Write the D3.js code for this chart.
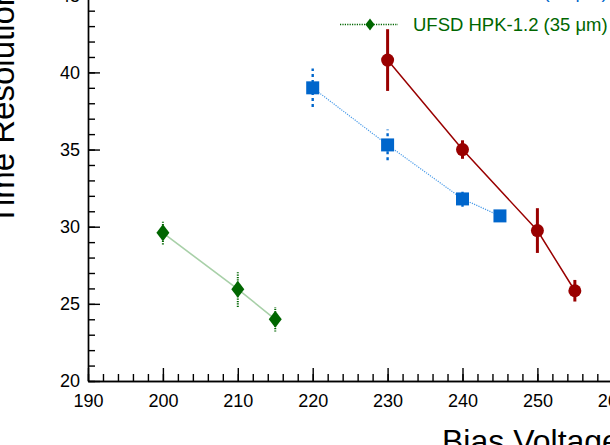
<!DOCTYPE html>
<html>
<head>
<meta charset="utf-8">
<script src="https://d3js.org/d3.v7.min.js"></script>
<style>
  body { margin: 0; background: #fff; }
  svg { display: block; font-family: "Liberation Sans", Arial, Helvetica, sans-serif; }
  .axis path, .axis line { stroke: #000; stroke-width: 1.4; }
  .axis text { font-size: 18px; fill: #000; }
</style>
</head>
<body>
<div id="graph"></div>
<script>
// bias voltage (V) / time resolution (ps) per sensor
var redV = [230, 240, 250, 255];
var redT = [40.8, 35.0, 29.75, 25.85];
var redErr = [2.0, 0.6, 1.45, 0.7];

var blueV = [220, 230, 240, 245];
var blueT = [39.0, 35.3, 31.8, 30.7];
var blueErr = [1.25, 1.0, 0.5, 0.3];

var greenV = [200, 210, 215];
var greenT = [29.6, 25.95, 24.0];
var greenErr = [0.75, 1.15, 0.8];

var xTicks = [190, 200, 210, 220, 230, 240, 250, 260, 270];
var yTicks = [20, 25, 30, 35, 40, 45];

var legendLabels = ["UFSD HPK-3.2 (50 \u03bcm)", "UFSD HPK-1.2 (35 \u03bcm)"];

var width = 610;
var height = 445;

var red = "#990000", blue = "#0066cc", green = "#006600";

function pts(xs, ys, es) {
    return xs.map(function(v, i) { return {v: v, t: ys[i], e: es[i]}; });
}

var svg = d3.select("#graph").append("svg")
    .attr("width", width)
    .attr("height", height);

var x = d3.scaleLinear().domain([190, 270]).range([88, 88 + 80 * 7.49]);
var y = d3.scaleLinear().domain([20, 50]).range([381, 381 - 30 * 15.43]);

// minor ticks first so the majors sit on top
svg.append("g").attr("class", "axis")
    .attr("transform", "translate(0,381)")
    .call(d3.axisBottom(x).tickValues(d3.range(190, 271, 2)).tickSizeInner(-7).tickSizeOuter(0).tickFormat(""));
svg.append("g").attr("class", "axis")
    .attr("transform", "translate(88,0)")
    .call(d3.axisLeft(y).tickValues(d3.range(20, 51, 1)).tickSizeInner(-7).tickSizeOuter(0).tickFormat(""));

svg.append("g").attr("class", "axis")
    .attr("transform", "translate(0,381)")
    .call(d3.axisBottom(x).tickValues(xTicks).tickSizeInner(-13).tickSizeOuter(0).tickPadding(13).tickFormat(d3.format("d")));
svg.append("g").attr("class", "axis")
    .attr("transform", "translate(88,0)")
    .call(d3.axisLeft(y).tickValues(yTicks).tickSizeInner(-12).tickSizeOuter(0).tickPadding(8).tickFormat(d3.format("d")));

svg.selectAll(".axis text").attr("font-family", null);

// axis titles
svg.append("text")
    .attr("x", 442).attr("y", 452)
    .attr("font-size", 32)
    .text("Bias Voltage [V]");
svg.append("text")
    .attr("transform", "translate(14,225) rotate(-90)")
    .attr("font-size", 33)
    .text("Time Resolution [ps]");

var line = d3.line()
    .x(function(d) { return x(d.v); })
    .y(function(d) { return y(d.t); });

function drawSeries(data, opt) {
    var g = svg.append("g");
    g.append("path")
        .datum(data)
        .attr("d", line)
        .attr("fill", "none")
        .attr("stroke", opt.lineColor)
        .attr("stroke-width", opt.lineWidth)
        .attr("stroke-dasharray", opt.lineDash);
    g.selectAll(".err").data(data).enter().append("line")
        .attr("x1", function(d) { return x(d.v); })
        .attr("x2", function(d) { return x(d.v); })
        .attr("y1", function(d) { return y(d.t - d.e); })
        .attr("y2", function(d) { return y(d.t + d.e); })
        .attr("stroke", opt.color)
        .attr("stroke-width", opt.errWidth)
        .attr("stroke-dasharray", opt.errDash);
    g.selectAll(".mk").data(data).enter().append("path")
        .attr("transform", function(d) { return "translate(" + x(d.v) + "," + y(d.t) + ")"; })
        .attr("d", opt.marker)
        .attr("fill", opt.color);
}

var circle = "M-6.5,0A6.5,6.5 0 1,0 6.5,0A6.5,6.5 0 1,0 -6.5,0Z";
var square = "M-6.5,-6.5H6.5V6.5H-6.5Z";
var diamond = "M0,-8.5L6.5,0L0,8.5L-6.5,0Z";

drawSeries(pts(greenV, greenT, greenErr), {
    color: green, lineColor: "#a8d0a8", lineWidth: 1.6, lineDash: null,
    errWidth: 2, errDash: "1.2,1.2", marker: diamond
});
drawSeries(pts(blueV, blueT, blueErr), {
    color: blue, lineColor: "#4a9be8", lineWidth: 1.2, lineDash: "1.2,1.2",
    errWidth: 2.4, errDash: "3,3", marker: square
});
drawSeries(pts(redV, redT, redErr), {
    color: red, lineColor: red, lineWidth: 1.5, lineDash: null,
    errWidth: 3, errDash: null, marker: circle
});

// legend (only the lower entries fall inside the picture)
var legend = svg.append("g");
var legendRows = [
    {label: legendLabels[0], color: blue, y: -9, marker: square, scale: 0.8},
    {label: legendLabels[1], color: green, y: 24.5, marker: diamond, scale: 0.7}
];
legendRows.forEach(function(r) {
    legend.append("line")
        .attr("x1", 340).attr("x2", 398)
        .attr("y1", r.y).attr("y2", r.y)
        .attr("stroke", r.color)
        .attr("stroke-width", 1.6)
        .attr("stroke-dasharray", "1.2,1.2");
    legend.append("path")
        .attr("transform", "translate(370," + r.y + ") scale(" + r.scale + ")")
        .attr("d", r.marker)
        .attr("fill", r.color);
    legend.append("text")
        .attr("x", 413).attr("y", r.y + 6.8)
        .attr("font-size", 18.5)
        .attr("fill", r.color)
        .text(r.label);
});
</script>
</body>
</html>
